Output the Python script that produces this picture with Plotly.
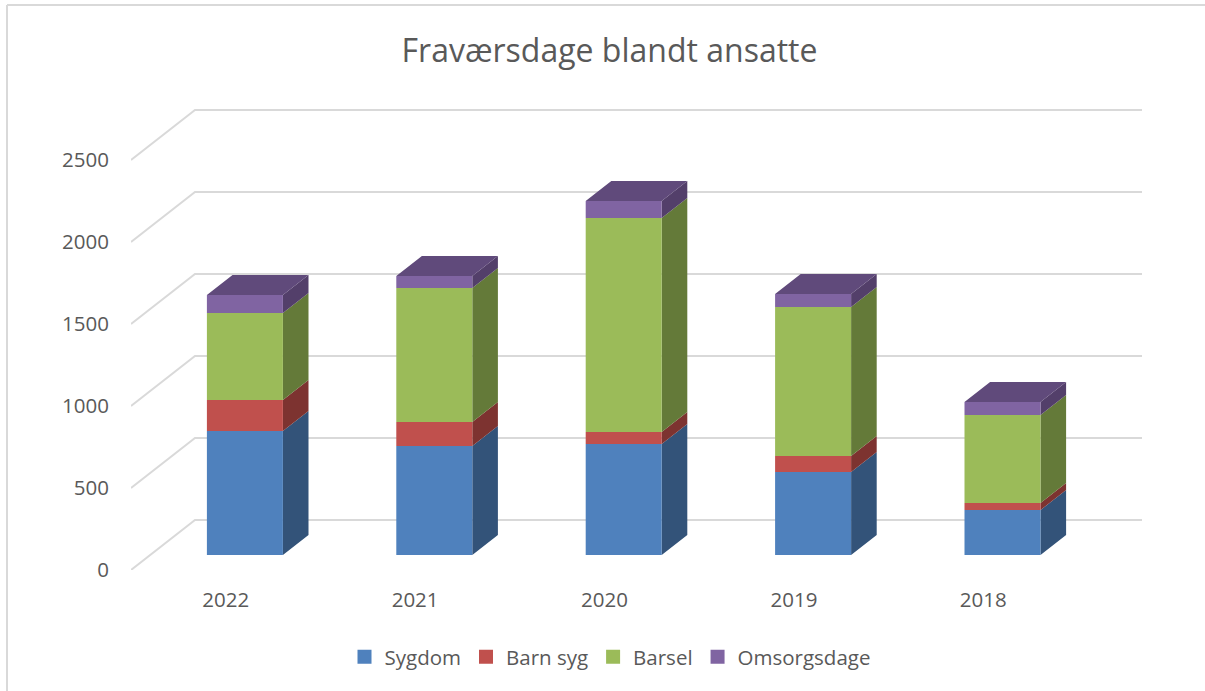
import plotly.graph_objects as go

years = ["2022", "2021", "2020", "2019", "2018"]
series_names = ["Sygdom", "Barn syg", "Barsel", "Omsorgsdage"]
sygdom = [756, 665, 677, 506, 274]
barn_syg = [189, 146, 73, 98, 43]
barsel = [530, 817, 1305, 908, 537]
omsorgsdage = [110, 73, 104, 79, 79]
y_ticks = [0, 500, 1000, 1500, 2000, 2500]

front_colors = ["#4F81BD", "#C0504D", "#9BBB59", "#8064A2"]
side_colors = ["#335379", "#7D3330", "#647A39", "#533F6A"]
top_color = "#604A7B"
grid_color = "#D9D9D9"
text_color = "#595959"
FONT = "Open Sans"

# Oblique projection: depth 0 is the front of the floor, depth 1 the back wall.
DEPTH_X = 64 / 189.4   # category units
DEPTH_Y = 50 / 0.164   # value units
BAR_FRONT, BAR_BACK = 0.3, 0.7
HALF = 38 / 189.4


def proj(x, v, d):
    return x + d * DEPTH_X, v + d * DEPTH_Y


def poly(points):
    xs = [p[0] for p in points] + [points[0][0], None]
    ys = [p[1] for p in points] + [points[0][1], None]
    return xs, ys


fig = go.Figure()

# Wall and floor gridlines
for t in y_ticks:
    a = proj(-0.5, t, 0)
    b = proj(-0.5, t, 1)
    c = proj(4.5, t, 1)
    fig.add_trace(go.Scatter(
        x=[a[0], b[0], c[0]], y=[a[1], b[1], c[1]], mode="lines",
        line=dict(color=grid_color, width=2), showlegend=False, hoverinfo="skip"))

values = [sygdom, barn_syg, barsel, omsorgsdage]
base = [0] * len(years)
for s, vals in enumerate(values):
    fx, fy, sx, sy = [], [], [], []
    for i, v in enumerate(vals):
        lo, hi = base[i], base[i] + v
        l, r = i - HALF, i + HALF
        xs, ys = poly([proj(r, lo, BAR_FRONT), proj(r, lo, BAR_BACK),
                       proj(r, hi, BAR_BACK), proj(r, hi, BAR_FRONT)])
        sx += xs
        sy += ys
        xs, ys = poly([proj(l, lo, BAR_FRONT), proj(r, lo, BAR_FRONT),
                       proj(r, hi, BAR_FRONT), proj(l, hi, BAR_FRONT)])
        fx += xs
        fy += ys
    fig.add_trace(go.Scatter(x=sx, y=sy, fill="toself", mode="lines", line=dict(width=0),
                             fillcolor=side_colors[s], showlegend=False, hoverinfo="skip"))
    fig.add_trace(go.Scatter(x=fx, y=fy, fill="toself", mode="lines", line=dict(width=0),
                             fillcolor=front_colors[s], showlegend=False, hoverinfo="skip"))
    base = [b + v for b, v in zip(base, vals)]

tx, ty = [], []
for i, h in enumerate(base):
    l, r = i - HALF, i + HALF
    xs, ys = poly([proj(l, h, BAR_FRONT), proj(r, h, BAR_FRONT),
                   proj(r, h, BAR_BACK), proj(l, h, BAR_BACK)])
    tx += xs
    ty += ys
fig.add_trace(go.Scatter(x=tx, y=ty, fill="toself", mode="lines", line=dict(width=0),
                         fillcolor=top_color, showlegend=False, hoverinfo="skip"))

# Legend entries
for name, col in zip(series_names, front_colors):
    fig.add_trace(go.Scatter(x=[None], y=[None], mode="markers", name=name,
                             marker=dict(symbol="square", size=14, color=col)))

PLOT_W, PLOT_H = 1012, 470
BORDER_X = (7 - 131) / PLOT_W
BORDER_TOP = (570 - 5) / PLOT_H
BORDER_BOTTOM = (570 - 691) / PLOT_H

fig.update_layout(
    width=1205, height=691, autosize=False,
    margin=dict(l=131, r=62, t=100, b=121),
    paper_bgcolor="white", plot_bgcolor="white",
    font=dict(family=FONT, size=20.5, color=text_color),
    title=dict(text="Fraværsdage blandt ansatte", x=609.5 / 1205, xanchor="center",
               y=1 - 51 / 691, yanchor="middle",
               font=dict(family=FONT, size=32, color=text_color)),
    xaxis=dict(range=[-0.5, -0.5 + PLOT_W / 189.4], tickmode="array",
               tickvals=list(range(len(years))), ticktext=years,
               showgrid=False, zeroline=False, showline=False,
               ticks="outside", ticklen=11, tickcolor="rgba(0,0,0,0)"),
    yaxis=dict(range=[0, PLOT_H / 0.164], tickmode="array", tickvals=y_ticks,
               showgrid=False, zeroline=False, showline=False,
               ticks="outside", ticklen=17, tickcolor="rgba(0,0,0,0)"),
    legend=dict(orientation="h", x=(610 - 131) / PLOT_W, xanchor="center",
                y=(570 - 657) / PLOT_H, yanchor="middle", itemwidth=30,
                font=dict(family=FONT, size=20.5, color=text_color),
                bgcolor="rgba(0,0,0,0)"),
    shapes=[
        dict(type="line", xref="paper", yref="paper", x0=BORDER_X, x1=BORDER_X,
             y0=BORDER_BOTTOM, y1=BORDER_TOP, line=dict(color=grid_color, width=2)),
        dict(type="line", xref="paper", yref="paper", x0=BORDER_X, x1=(1205 - 131) / PLOT_W,
             y0=BORDER_TOP, y1=BORDER_TOP, line=dict(color=grid_color, width=2)),
    ],
)

fig.write_html("out.html", config={"displayModeBar": False},
               post_script="document.body.style.margin='0';document.body.style.overflow='hidden';")
